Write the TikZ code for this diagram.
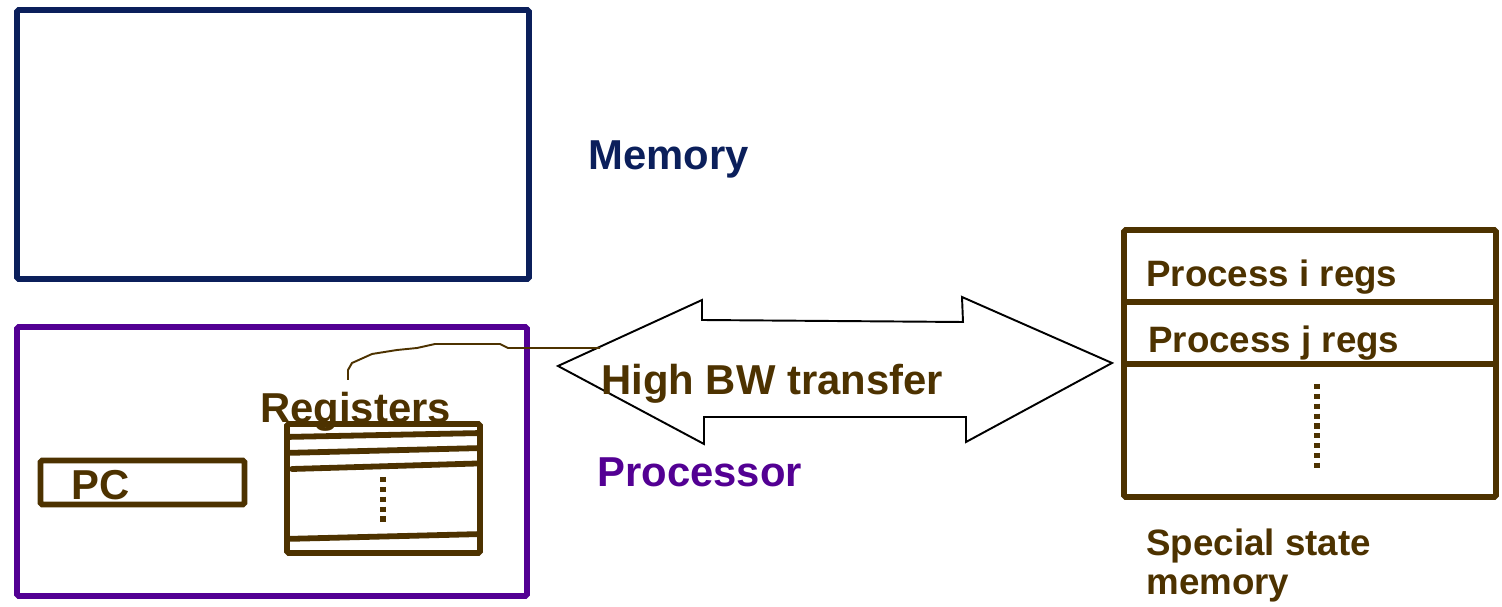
\documentclass[tikz,border=0pt]{standalone}
\usepackage{fontspec}
\setmainfont{Liberation Sans}
\usepackage{tikz}
\usetikzlibrary{positioning,calc}
\definecolor{memNavy}{HTML}{0B1F5B}
\definecolor{cpuPurple}{HTML}{530093}
\definecolor{regBrown}{HTML}{4D3200}

\begin{document}
\begin{tikzpicture}[x=0.02cm, y=-0.02cm,
  big/.style={font=\fontsize{23.8}{28}\selectfont\bfseries, inner sep=0pt, anchor=base west},
  small/.style={font=\fontsize{20.9}{25}\selectfont\bfseries, inner sep=0pt, anchor=base west, regBrown},
  box/.style={draw, line width=3.3pt, rounded corners=1pt, inner sep=0pt},
  slat/.style={regBrown, line width=3.3pt},
  dots/.style={regBrown, line width=3.4pt, dash pattern=on 3pt off 2.6pt},
  wire/.style={regBrown, line width=1.1pt}]
\useasboundingbox (0,0) rectangle (1502,607);
\node[box, memNavy, minimum width=512*0.02cm, minimum height=269*0.02cm] (mem) at (273,144.5) {};
\node[big, memNavy] (memlbl) at (588,170) {Memory};
\node[box, cpuPurple, minimum width=510*0.02cm, minimum height=269*0.02cm] (proc) at (272,461.5) {};
\node[big, cpuPurple] (proclbl) at (597,487) {Processor};
\node[box, regBrown, minimum width=204*0.02cm, minimum height=44*0.02cm] (pc) at (142.5,482.5) {};
\node[big, regBrown] (pclbl) at (71,500) {PC};
\node[box, regBrown, minimum width=193*0.02cm, minimum height=129*0.02cm] (regbox) at (383.5,488.5) {};
\node[big, regBrown] (reglbl) at (260,423) {Registers};
\draw[slat] (regbox.west |- 0,437) -- (regbox.east |- 0,433);
\draw[slat] (regbox.west |- 0,453) -- (regbox.east |- 0,448);
\draw[slat, line cap=round] (292,469) -- (477,463.5);
\draw[slat] (regbox.west |- 0,539) -- (regbox.east |- 0,534);
\draw[dots] (383,477) -- (383,524);
\draw[line width=1.1pt, line join=miter, fill=white]
  (558,366) -- (702,300) -- (702,320) -- (963,322) -- (962,297) -- (1112,363)
  -- (966,442) -- (966,417) -- (704,417) -- (704,444) -- cycle;
\node[big, regBrown] (bw) at (601,395) {High BW transfer};
\coordinate (regtail) at (348,380);
\coordinate (bwtail) at (600,348);
\draw[wire] (regtail) -- (348,370) -- (352,363) -- (372,354) -- (397,350) -- (417,348)
  -- (435,344) -- (500,344) -- (508,348) -- (bwtail);
\node[box, regBrown, minimum width=372*0.02cm, minimum height=267*0.02cm] (ssm) at (1310,363.5) {};
\draw[slat] (ssm.west |- 0,302) -- (ssm.east |- 0,302);
\draw[slat] (ssm.west |- 0,364) -- (ssm.east |- 0,364);
\node[small] (pi) at (1146,287) {Process i regs};
\node[small] (pj) at (1148,353) {Process j regs};
\draw[dots] (1317,384) -- (1317,472);
\node[small] (ssmlbl1) at (1146,556) {Special state};
\node[small] (ssmlbl2) at (1146,595) {memory};
\end{tikzpicture}
\end{document}
